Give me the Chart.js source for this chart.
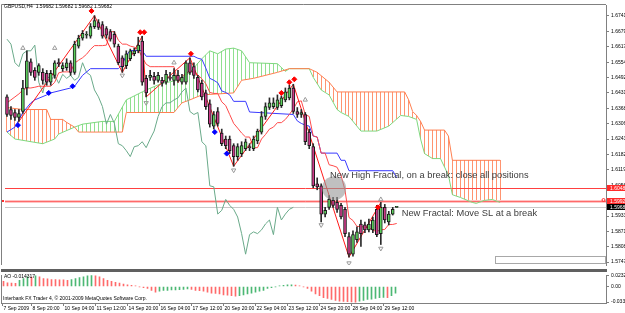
<!DOCTYPE html>
<html>
<head>
<meta charset="utf-8">
<script src="https://cdn.jsdelivr.net/npm/chart.js@4"></script>
<style>
  html, body { margin: 0; padding: 0; background: #fff; }
  #wrap { position: relative; width: 625px; height: 313px; background: #fff; overflow: hidden; }
  #wrap canvas { position: absolute; left: 0; }
  #main { top: 0; }
  #ao { top: 270px; }
</style>
</head>
<body>
<div id="wrap">
  <canvas id="main" width="625" height="270"></canvas>
  <canvas id="ao" width="625" height="43"></canvas>
</div>
<script>
// GBPUSD H4 candles, 7 Sep - 29 Sep 2009
const openP = [
  1.6414, 1.6363, 1.6351, 1.6331, 1.6355, 1.6450, 1.6556, 1.6521, 1.6513, 1.6513,
  1.6509, 1.6473, 1.6501, 1.6552, 1.6528, 1.6532, 1.6552, 1.6513, 1.6619, 1.6651,
  1.6663, 1.6659, 1.6698, 1.6714, 1.6706, 1.6690, 1.6678, 1.6667, 1.6619, 1.6572,
  1.6540, 1.6568, 1.6588, 1.6600, 1.6639, 1.6489, 1.6493, 1.6497, 1.6481, 1.6481,
  1.6473, 1.6493, 1.6481, 1.6501, 1.6473, 1.6473, 1.6552, 1.6536, 1.6493, 1.6469,
  1.6430, 1.6386, 1.6296, 1.6355, 1.6268, 1.6244, 1.6244, 1.6217, 1.6173, 1.6185,
  1.6205, 1.6213, 1.6205, 1.6236, 1.6272, 1.6335, 1.6371, 1.6375, 1.6371, 1.6379,
  1.6402, 1.6410, 1.6450, 1.6355, 1.6343, 1.6343, 1.6272, 1.6213, 1.6063, 1.6055,
  1.5941, 1.5968, 1.5996, 1.5988, 1.5976, 1.5960, 1.5850, 1.5779, 1.5838, 1.5901,
  1.5897, 1.5877, 1.5877, 1.5960, 1.5862, 1.5968, 1.5909, 1.5941, 1.59682
];
const highP = [
  1.6422, 1.6375, 1.6363, 1.6363, 1.6481, 1.6600, 1.6568, 1.6532, 1.6548, 1.6528,
  1.6521, 1.6521, 1.6560, 1.6568, 1.6552, 1.6568, 1.6560, 1.6639, 1.6663, 1.6682,
  1.6678, 1.6710, 1.6742, 1.6726, 1.6718, 1.6698, 1.6686, 1.6678, 1.6627, 1.6580,
  1.6600, 1.6607, 1.6611, 1.6655, 1.6659, 1.6501, 1.6521, 1.6513, 1.6513, 1.6493,
  1.6521, 1.6513, 1.6528, 1.6521, 1.6505, 1.6560, 1.6572, 1.6552, 1.6501, 1.6481,
  1.6442, 1.6402, 1.6355, 1.6371, 1.6284, 1.6256, 1.6256, 1.6225, 1.6225, 1.6233,
  1.6244, 1.6225, 1.6256, 1.6284, 1.6355, 1.6390, 1.6410, 1.6410, 1.6422, 1.6418,
  1.6450, 1.6461, 1.6465, 1.6371, 1.6363, 1.6351, 1.6284, 1.6225, 1.6087, 1.6063,
  1.5968, 1.6016, 1.6008, 1.6008, 1.5984, 1.5968, 1.5866, 1.5873, 1.5889, 1.5917,
  1.5909, 1.5921, 1.5929, 1.5976, 1.5988, 1.5980, 1.5952, 1.5968, 1.59682
];
const lowP = [
  1.6335, 1.6323, 1.6319, 1.6315, 1.6347, 1.6422, 1.6501, 1.6481, 1.6501, 1.6465,
  1.6461, 1.6461, 1.6489, 1.6536, 1.6517, 1.6521, 1.6501, 1.6505, 1.6611, 1.6643,
  1.6651, 1.6651, 1.6690, 1.6686, 1.6651, 1.6651, 1.6639, 1.6615, 1.6544, 1.6513,
  1.6528, 1.6560, 1.6580, 1.6592, 1.6461, 1.6414, 1.6481, 1.6465, 1.6473, 1.6457,
  1.6465, 1.6481, 1.6461, 1.6473, 1.6465, 1.6465, 1.6505, 1.6489, 1.6434, 1.6402,
  1.6363, 1.6292, 1.6284, 1.6296, 1.6217, 1.6205, 1.6185, 1.6134, 1.6158, 1.6173,
  1.6197, 1.6197, 1.6197, 1.6225, 1.6264, 1.6323, 1.6363, 1.6367, 1.6363, 1.6371,
  1.6394, 1.6402, 1.6347, 1.6331, 1.6331, 1.6221, 1.6205, 1.6047, 1.6039, 1.5909,
  1.5929, 1.5960, 1.5968, 1.5948, 1.5921, 1.5850, 1.5767, 1.5771, 1.5826, 1.5810,
  1.5866, 1.5869, 1.5866, 1.5850, 1.5818, 1.5905, 1.5897, 1.5937, 1.59682
];
const closeP = [
  1.6343, 1.6339, 1.6331, 1.6347, 1.6450, 1.6560, 1.6513, 1.6493, 1.6540, 1.6481,
  1.6473, 1.6509, 1.6552, 1.6548, 1.6540, 1.6552, 1.6513, 1.6627, 1.6651, 1.6671,
  1.6667, 1.6698, 1.6722, 1.6694, 1.6659, 1.6663, 1.6647, 1.6627, 1.6552, 1.6536,
  1.6588, 1.6600, 1.6600, 1.6623, 1.6473, 1.6430, 1.6501, 1.6481, 1.6501, 1.6469,
  1.6505, 1.6489, 1.6501, 1.6481, 1.6493, 1.6552, 1.6513, 1.6501, 1.6442, 1.6414,
  1.6375, 1.6304, 1.6343, 1.6307, 1.6225, 1.6217, 1.6197, 1.6173, 1.6213, 1.6217,
  1.6233, 1.6209, 1.6244, 1.6276, 1.6335, 1.6375, 1.6390, 1.6390, 1.6402, 1.6410,
  1.6434, 1.6450, 1.6355, 1.6343, 1.6351, 1.6233, 1.6217, 1.6055, 1.6051, 1.5941,
  1.5956, 1.6000, 1.5976, 1.5960, 1.5929, 1.5862, 1.5779, 1.5858, 1.5869, 1.5862,
  1.5877, 1.5901, 1.5917, 1.5858, 1.5968, 1.5917, 1.5941, 1.5960, 1.59682
];

// Ichimoku lines
const tenkan = [
  1.6390, 1.6402, 1.6414, 1.6426, 1.6442, 1.6450, 1.6450, 1.6453, 1.6457, 1.6457,
  1.6457, 1.6457, 1.6473, 1.6511, 1.6515, 1.6515, 1.6515, 1.6550, 1.6562, 1.6572,
  1.6586, 1.6606, 1.6621, 1.6621, 1.6621, 1.6623, 1.6676, 1.6678, 1.6643, 1.6627,
  1.6627, 1.6619, 1.6615, 1.6606, 1.6574, 1.6546, 1.6536, 1.6536, 1.6536, 1.6536,
  1.6536, 1.6536, 1.6536, 1.6471, 1.6495, 1.6511, 1.6517, 1.6515, 1.6503, 1.6487,
  1.6467, 1.6432, 1.6428, 1.6428, 1.6394, 1.6379, 1.6343, 1.6307, 1.6288, 1.6268,
  1.6252, 1.6252, 1.6209, 1.6209, 1.6244, 1.6262, 1.6284, 1.6292, 1.6310, 1.6310,
  1.6323, 1.6343, 1.6365, 1.6394, 1.6398, 1.6343, 1.6335, 1.6256, 1.6252, 1.6187,
  1.6187, 1.6140, 1.6136, 1.6130, 1.6097, 1.6037, 1.5927, 1.5915, 1.5891, 1.5891,
  1.5887, 1.5887, 1.5875, 1.5871, 1.5877, 1.5879, 1.5899, 1.5899, 1.5903
];
const kijunAt = [0, 2, 4, 6, 7, 10, 11, 16, 17, 19, 21, 28, 29, 30, 31, 34, 35, 47, 48, 49,
  50, 51, 52, 53, 54, 55, 56, 57, 60, 61, 72, 73, 74, 75, 76, 77, 78, 79, 83, 84, 85, 86, 97, 98];
const kijunVal = [1.6272, 1.6292, 1.6351, 1.6390, 1.6402, 1.6422, 1.6430, 1.6450, 1.6457, 1.6501,
  1.6528, 1.6528, 1.6544, 1.6582, 1.6601, 1.6601, 1.6578, 1.6578, 1.6570, 1.6566,
  1.6530, 1.6489, 1.6481, 1.6471, 1.6438, 1.6432, 1.6422, 1.6396, 1.6396, 1.6353,
  1.6343, 1.6317, 1.6307, 1.6300, 1.6296, 1.6256, 1.6252, 1.6187, 1.6187, 1.6158,
  1.6158, 1.6116, 1.6116, 1.6087];

const spanOrangeAt = [0, 4, 10, 11, 14, 15, 17, 18, 29, 30, 42, 43, 44, 46, 49, 57, 59, 62, 68, 71,
  76, 78, 81, 83, 100, 101, 102, 103, 104, 105, 110, 111, 112, 124];
const spanOrangeVal = [1.6371, 1.6363, 1.6363, 1.6323, 1.6323, 1.6311, 1.6292, 1.6272, 1.6272, 1.6351,
  1.6351, 1.6371, 1.6390, 1.6402, 1.6422, 1.6430, 1.6481, 1.6489, 1.6513, 1.6528,
  1.6528, 1.6513, 1.6473, 1.6434, 1.6434, 1.6402, 1.6355, 1.6339, 1.6315, 1.6280,
  1.6280, 1.6256, 1.6158, 1.6158];
const spanGreenAt = [0, 2, 9, 12, 13, 17, 19, 24, 27, 30, 35, 39, 43, 46, 49, 51, 53, 55, 57, 59,
  61, 68, 70, 71, 76, 77, 79, 81, 83, 84, 86, 89, 93, 96, 99, 101, 103, 104, 105, 107,
  109, 111, 112, 114, 117, 118, 120, 122, 124];
const spanGreenVal = [1.6272, 1.6244, 1.6225, 1.6244, 1.6264, 1.6292, 1.6304, 1.6315, 1.6315, 1.6402,
  1.6442, 1.6469, 1.6481, 1.6513, 1.6568, 1.6600, 1.6588, 1.6607, 1.6611, 1.6600,
  1.6552, 1.6548, 1.6517, 1.6528, 1.6528, 1.6493, 1.6442, 1.6422, 1.6363, 1.6351,
  1.6335, 1.6276, 1.6276, 1.6296, 1.6339, 1.6335, 1.6323, 1.6244, 1.6185, 1.6165,
  1.6165, 1.6098, 1.6019, 1.6008, 1.5988, 1.5984, 1.5996, 1.6000, 1.5988];

const zigzagAt = [3, 22, 29, 34, 35, 46, 57, 72, 86, 94];
const zigzagVal = [1.6315, 1.6742, 1.6513, 1.6659, 1.6414, 1.6572, 1.6134, 1.6465, 1.5767, 1.5988];

// fractal arrows and signal marks
const upArrowAt = [4, 12, 42, 75, 94];
const upArrowVal = [1.6611, 1.6611, 1.6552, 1.6402, 1.6000];
const downArrowAt = [29, 35, 57, 79, 86, 94];
const downArrowVal = [1.6501, 1.6390, 1.6118, 1.5897, 1.5743, 1.5802];
const redMarkAt = [21.25, 33.5, 34.5, 46.25, 69, 71, 72.25, 93.25];
const redMarkVal = [1.6761, 1.6675, 1.6675, 1.6588, 1.6430, 1.6473, 1.6485, 1.5968];
const blueMarkAt = [2.75, 10.5, 16.5, 52.25, 55.25];
const blueMarkVal = [1.6300, 1.6430, 1.6457, 1.6272, 1.6185];

// Awesome Oscillator
const aoValues = [
  0.0110, 0.0075, 0.0071, 0.0068, 0.0129, 0.0167, 0.0206, 0.0200, 0.0225, 0.0206,
  0.0167, 0.0160, 0.0148, 0.0145, 0.0142, 0.0140, 0.0129, 0.0148, 0.0167, 0.0187,
  0.0206, 0.0225, 0.02324, 0.0228, 0.0206, 0.0167, 0.0129, 0.0110, 0.0090, 0.0071,
  0.0052, 0.0033, 0.0023, 0.0013, -0.0006, -0.0025, -0.0044, -0.0083, -0.0121, -0.0102,
  -0.0085, -0.0083, -0.0075, -0.0073, -0.0066, -0.0064, -0.0054, -0.0064, -0.0083, -0.0090,
  -0.0102, -0.0121, -0.0141, -0.0150, -0.0160, -0.0179, -0.0185, -0.0198, -0.0205, -0.0198,
  -0.0179, -0.0160, -0.0141, -0.0121, -0.0102, -0.0083, -0.0044, -0.0025, -0.0006, 0.0013,
  0.0023, 0.0033, 0.0035, 0.0030, 0.0013, -0.0006, -0.0044, -0.0102, -0.0160, -0.0198,
  -0.0237, -0.0256, -0.0275, -0.0295, -0.0314, -0.0320, -0.0325, -0.0330, -0.0333, -0.0314,
  -0.0295, -0.0275, -0.0270, -0.0256, -0.0237, -0.0232, -0.0240, -0.0198, -0.0143
];

const priceTicks = [1.67415, 1.66795, 1.66170, 1.65540, 1.64920, 1.64310, 1.63680, 1.63060,
  1.62435, 1.61820, 1.61190, 1.60560, 1.59945, 1.59330, 1.58715, 1.58085, 1.57470];
const aoTicks = [0.02324, 0, -0.0333];
const aoTickLabels = ['0.02324', '0.00', '-0.03330'];
const timeTickAt = [-0.25, 7, 15, 23, 31, 39, 47, 55, 63, 71, 79, 87, 95];
const timeLabels = ['7 Sep 2009', '8 Sep 20:00', '10 Sep 04:00', '11 Sep 12:00', '14 Sep 20:00',
  '16 Sep 04:00', '17 Sep 12:00', '20 Sep 20:00', '22 Sep 04:00', '23 Sep 12:00',
  '24 Sep 20:00', '28 Sep 04:00', '29 Sep 12:00'];

const levelPrices = [1.60480, 1.59922];
const bidPrice = 1.59682;
const cloudBars = 124; // cloud runs 26 bars past the last candle

// axis ranges
const xMin = -0.5, xMax = 150.625;
const yMin = 1.57353, yMax = 1.67850;
const aoMin = -0.0352, aoMax = 0.0244;

const FONT = 'Liberation Sans, Arial, sans-serif';
const bull = '#5ccf5c', bear = '#cc3a88';
const hatchUp = '#8fe08f', hatchDown = '#ff9470';

const idx = openP.map((_, i) => i);
const pts = (xs, ys) => xs.map((x, k) => ({ x, y: ys[k] }));
const bodyColors = idx.map(i => closeP[i] >= openP[i] ? bull : bear);
const aoColors = aoValues.map((v, i) => (i > 0 && v > aoValues[i - 1]) ? '#4cb874' : '#ff6a6a');

function lineSet(label, data, color, order) {
  return { type: 'line', label, data, borderColor: color, borderWidth: 1, pointRadius: 0,
    fill: false, tension: 0, order };
}
function markSet(label, xs, ys, style, color, fillColor, rot, order) {
  return { type: 'line', label, data: pts(xs, ys), showLine: false, pointStyle: style,
    pointRadius: 2.5, pointBorderWidth: 1, pointBorderColor: color,
    pointBackgroundColor: fillColor, pointRotation: rot, order };
}

// overlays on the price panel
const mainOverlay = {
  id: 'mainOverlay',
  beforeDatasetsDraw(chart) {
    const { ctx, chartArea: a, scales: { x, y } } = chart;
    ctx.save();
    // cloud hatch: one vertical stroke per bar between the two spans
    const lineB = chart.getDatasetMeta(0).dataset;
    const lineA = chart.getDatasetMeta(1).dataset;
    for (let k = 0; k <= cloudBars; k++) {
      const px = x.getPixelForValue(k);
      const pb = lineB.interpolate({ x: px }, 'x');
      const pa = lineA.interpolate({ x: px }, 'x');
      if (!pb || !pa) continue;
      ctx.fillStyle = pb.y < pa.y ? hatchUp : hatchDown;
      const top = Math.min(pa.y, pb.y), bot = Math.max(pa.y, pb.y);
      ctx.fillRect(Math.floor(px), Math.round(top), 1, Math.round(bot) - Math.round(top));
    }
    // horizontal levels
    const y1 = Math.round(y.getPixelForValue(levelPrices[0])) + 0.5;
    ctx.strokeStyle = '#ff4040'; ctx.lineWidth = 1;
    ctx.beginPath(); ctx.moveTo(a.left, y1); ctx.lineTo(a.right, y1); ctx.stroke();
    const y2 = Math.round(y.getPixelForValue(levelPrices[1])) + 0.5;
    ctx.strokeStyle = '#ffc4c4'; ctx.lineWidth = 3;
    ctx.beginPath(); ctx.moveTo(a.left, y2); ctx.lineTo(a.right, y2); ctx.stroke();
    ctx.strokeStyle = '#ff6a6a'; ctx.lineWidth = 1;
    ctx.beginPath(); ctx.moveTo(a.left, y2); ctx.lineTo(a.right, y2); ctx.stroke();
    const y3 = Math.round(y.getPixelForValue(bidPrice)) + 0.5;
    ctx.strokeStyle = '#c8c8c8';
    ctx.beginPath(); ctx.moveTo(a.left, y3); ctx.lineTo(a.right, y3); ctx.stroke();
    ctx.restore();
  },
  afterDatasetsDraw(chart) {
    const { ctx, scales: { x, y } } = chart;
    ctx.save();
    // highlight circle
    ctx.fillStyle = 'rgba(150,150,150,0.6)';
    ctx.beginPath();
    ctx.arc(x.getPixelForValue(82.25), y.getPixelForValue(1.6045), 12, 0, Math.PI * 2);
    ctx.fill();
    // notes
    ctx.fillStyle = '#3c3c3c';
    ctx.font = '9.3px ' + FONT;
    ctx.textBaseline = 'middle';
    ctx.fillText('New High Fractal, on a break: close all positions',
      x.getPixelForValue(81.25), y.getPixelForValue(1.6098));
    ctx.fillText('New Fractal: Move SL at a break',
      x.getPixelForValue(99.25), y.getPixelForValue(1.5945));
    // empty box bottom right
    const bx0 = Math.round(x.getPixelForValue(122.75)) + 0.5;
    const bx1 = Math.round(x.getPixelForValue(150.25)) + 0.5;
    const by0 = Math.round(y.getPixelForValue(1.5771)) + 0.5;
    const by1 = Math.round(y.getPixelForValue(1.5743)) + 0.5;
    ctx.strokeStyle = '#a8a8a8'; ctx.lineWidth = 1;
    ctx.strokeRect(bx0, by0, bx1 - bx0, by1 - by0);
    ctx.restore();
  },
  afterDraw(chart) {
    const { ctx, chartArea: a, scales: { y } } = chart;
    ctx.save();
    // frame
    ctx.strokeStyle = '#808080'; ctx.lineWidth = 1;
    ctx.beginPath();
    ctx.moveTo(1.5, a.bottom); ctx.lineTo(1.5, a.top - 0.5); ctx.lineTo(a.right, a.top - 0.5);
    ctx.stroke();
    ctx.fillStyle = '#606060';
    ctx.fillRect(1, 269, 606, 1);
    // price labels on the axis
    ctx.font = '5px ' + FONT;
    ctx.textBaseline = 'middle';
    const boxes = [[levelPrices[0], '#ff2b2b'], [levelPrices[1], '#ff2b2b'], [bidPrice, '#000']];
    boxes.forEach(([v, bg]) => {
      const py = Math.round(y.getPixelForValue(v));
      ctx.fillStyle = bg;
      ctx.fillRect(607, py - 3, 18, 6);
      ctx.fillStyle = '#fff';
      ctx.fillText(v.toFixed(5), 610, py + 0.5);
    });
    // small markers of the level line
    const pl = Math.round(y.getPixelForValue(levelPrices[1]));
    ctx.fillStyle = '#ff3030';
    ctx.fillRect(2, pl - 1, 2, 2);
    ctx.strokeStyle = '#ff3030';
    ctx.beginPath(); ctx.arc(603.5, pl - 1, 1.5, 0, Math.PI * 2); ctx.stroke();
    // title
    ctx.fillStyle = '#000';
    ctx.fillText('GBPUSD,H4  1.59682 1.59682 1.59682 1.59682', 4, 6.5);
    ctx.restore();
  }
};

new Chart(document.getElementById('main').getContext('2d'), {
  type: 'bar',
  data: {
    datasets: [
      lineSet('Senkou B', pts(spanGreenAt, spanGreenVal), '#7fd87f', 20),
      lineSet('Senkou A', pts(spanOrangeAt, spanOrangeVal), '#ff7f50', 19),
      lineSet('Chikou', closeP.slice(26).map((c, j) => ({ x: j, y: c })), '#6aaa8a', 18),
      lineSet('Kijun', pts(kijunAt, kijunVal), '#3a3aff', 17),
      lineSet('Tenkan', tenkan.map((v, i) => ({ x: i, y: v })), '#ff4a4a', 16),
      lineSet('ZigZag', pts(zigzagAt, zigzagVal), '#ff1a1a', 15),
      { type: 'bar', label: 'wick', data: idx.map(i => ({ x: i, y: [lowP[i], highP[i]] })),
        backgroundColor: '#2a2a2a', barThickness: 1, grouped: false, minBarLength: 1, order: 14 },
      { type: 'bar', label: 'body', data: idx.map(i => ({ x: i, y: [openP[i], closeP[i]] })),
        backgroundColor: bodyColors, borderColor: '#1a1a1a', borderWidth: 1, borderSkipped: false,
        barThickness: 3, grouped: false, minBarLength: 1, order: 13 },
      markSet('up fractal', upArrowAt, upArrowVal, 'triangle', '#9a9a9a', 'rgba(0,0,0,0)', 0, 4),
      markSet('down fractal', downArrowAt, downArrowVal, 'triangle', '#9a9a9a', 'rgba(0,0,0,0)', 180, 4),
      markSet('high signal', redMarkAt, redMarkVal, 'rectRot', '#ff0000', '#ff0000', 0, 3),
      markSet('low signal', blueMarkAt, blueMarkVal, 'rectRot', '#0000ff', '#0000ff', 0, 3)
    ]
  },
  options: {
    responsive: false,
    animation: false,
    devicePixelRatio: 1,
    layout: { padding: { top: 3, left: 1.5, right: 0, bottom: 1 } },
    plugins: { legend: { display: false }, tooltip: { enabled: false } },
    scales: {
      x: { type: 'linear', min: xMin, max: xMax, offset: false, display: false },
      y: {
        type: 'linear', position: 'right', min: yMin, max: yMax,
        afterBuildTicks: s => { s.ticks = priceTicks.map(v => ({ value: v })); },
        afterFit: s => { s.width = 19; },
        ticks: { callback: v => v.toFixed(5), autoSkip: false, padding: 2, color: '#000',
          font: { size: 5, family: FONT } },
        grid: { drawOnChartArea: false, tickLength: 3, color: '#808080' },
        border: { color: '#808080' }
      }
    }
  },
  plugins: [mainOverlay]
});

// oscillator panel
const aoOverlay = {
  id: 'aoOverlay',
  afterDraw(chart) {
    const { ctx, chartArea: a } = chart;
    ctx.save();
    ctx.fillStyle = '#606060';
    ctx.fillRect(1, 0, 606, 2);
    ctx.strokeStyle = '#808080'; ctx.lineWidth = 1;
    ctx.beginPath(); ctx.moveTo(1.5, a.top); ctx.lineTo(1.5, a.bottom); ctx.stroke();
    ctx.fillStyle = '#000';
    ctx.font = '5px ' + FONT;
    ctx.textBaseline = 'middle';
    ctx.fillText('AO -0.014317', 4, 6.5);
    ctx.fillText('Interbank FX Trader 4, \u00a9 2001-2009 MetaQuotes Software Corp.', 3, 28.5);
    ctx.restore();
  }
};

new Chart(document.getElementById('ao').getContext('2d'), {
  type: 'bar',
  data: {
    datasets: [{ label: 'AO', data: idx.map(i => ({ x: i, y: aoValues[i] })),
      backgroundColor: aoColors, barThickness: 1, grouped: false }]
  },
  options: {
    responsive: false,
    animation: false,
    devicePixelRatio: 1,
    layout: { padding: { top: 2, left: 1.5, right: 0, bottom: 0 } },
    plugins: { legend: { display: false }, tooltip: { enabled: false } },
    scales: {
      x: {
        type: 'linear', min: xMin, max: xMax, offset: false, position: 'bottom',
        afterBuildTicks: s => { s.ticks = timeTickAt.map(v => ({ value: v })); },
        afterFit: s => { s.height = 10; },
        ticks: { callback: (v, i) => timeLabels[i], align: 'start', autoSkip: false, maxRotation: 0,
          padding: 0, labelOffset: 1, color: '#000', font: { size: 5, family: FONT } },
        grid: { drawOnChartArea: false, tickLength: 3, color: '#808080', offset: false },
        border: { color: '#808080' }
      },
      y: {
        type: 'linear', position: 'right', min: aoMin, max: aoMax,
        afterBuildTicks: s => { s.ticks = aoTicks.map(v => ({ value: v })); },
        afterFit: s => { s.width = 19; },
        ticks: { callback: (v, i) => aoTickLabels[i], autoSkip: false, padding: 2, color: '#000',
          font: { size: 5, family: FONT } },
        grid: { drawOnChartArea: false, tickLength: 3, color: '#808080' },
        border: { color: '#808080' }
      }
    }
  },
  plugins: [aoOverlay]
});
</script>
</body>
</html>
